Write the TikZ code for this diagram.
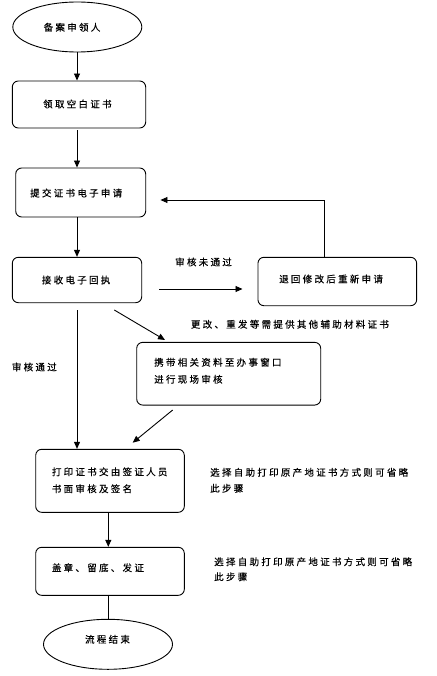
\documentclass[tikz,border=0pt]{standalone}
\usepackage{fontspec}
\newfontfamily\cjkf[LetterSpace=24,FakeBold=0.4]{Noto Sans CJK SC}
\usetikzlibrary{arrows.meta,shapes.geometric}
\begin{document}
\begin{tikzpicture}[x=1pt,y=-1pt,
  box/.style={draw, rounded corners=6pt, line width=0.9pt, inner sep=0pt},
  oval/.style={draw, ellipse, line width=0.9pt, inner sep=0pt, minimum width=129pt, minimum height=50pt},
  txt/.style={inner sep=0pt, anchor=west, align=left, font=\cjkf\fontsize{9.5}{17}\selectfont},
  arr/.style={-{Triangle[length=7pt,width=6pt]}, line width=0.9pt},
  ln/.style={line width=0.9pt}]
\useasboundingbox (0,0) rectangle (436,676);
\coordinate (cx) at (77,0);
\coordinate (fx) at (324.3,0);
\coordinate (mx) at (108.3,0);
\coordinate (ry) at (0,289);

\node[oval] (e1) at (77.3,27) {};
\node[inner sep=0pt, font=\cjkf\fontsize{9.5}{17}\selectfont] (te1) at (72,27.3) {备案申领人};

\node[box, minimum width=133.4pt, minimum height=47pt] (b1) at (79,104.5) {};
\node[txt] (t1) at (43,104) {领取空白证书};

\node[box, minimum width=130pt, minimum height=49pt] (b2) at (80.7,192.5) {};
\node[txt] (t2) at (30,193) {提交证书电子申请};

\node[box, minimum width=129.4pt, minimum height=45.4pt] (b3) at (77,280) {};
\node[txt] (t3) at (41.7,280) {接收电子回执};

\node[box, minimum width=158.7pt, minimum height=48.4pt] (b4) at (337.3,281.5) {};
\node[txt] (t4) at (279,279) {退回修改后重新申请};

\node[box, minimum width=184pt, minimum height=62.7pt] (b5) at (228.7,373.7) {};
\node[txt] (t5) at (154,370.8) {携带相关资料至办事窗口\\进行现场审核};

\node[box, minimum width=148.6pt, minimum height=63pt] (b6) at (110,480.8) {};
\node[txt] (t6) at (51.7,480.3) {打印证书交由签证人员\\书面审核及签名};

\node[box, minimum width=148.6pt, minimum height=48pt] (b7) at (110,571.3) {};
\node[txt] (t7) at (51.7,567.7) {盖章、留底、发证};

\node[oval] (e2) at (108,644.3) {};
\node[inner sep=0pt, font=\cjkf\fontsize{9.5}{17}\selectfont] (te2) at (107.5,639.3) {流程结束};

% labels
\node[txt] (l1) at (175,262) {审核未通过};
\node[txt] (l2) at (190.7,324.3) {更改、重发等需提供其他辅助材料证书};
\node[txt] (l3) at (11.7,367) {审核通过};
\node[txt, font=\cjkf\fontsize{9.5}{16}\selectfont] (n1) at (210,480.3) {选择自助打印原产地证书方式则可省略\\此步骤};
\node[txt, font=\cjkf\fontsize{9.5}{15}\selectfont] (n2) at (214,569.2) {选择自助打印原产地证书方式则可省略\\此步骤};

% connectors
\draw[arr] (e1.south -| cx) -- (b1.north -| cx);
\draw[arr, shorten <=2pt] (b1.south -| cx) -- (b2.north -| cx);
\draw[arr] (b2.south -| cx) -- (b3.north -| cx);
\draw[arr, shorten <=17.3pt, shorten >=15pt] (b3.east |- ry) -- (b4.west |- ry);
\draw[arr, shorten >=14.3pt] (b4.north -| fx) |- ([yshift=-7.5pt]b2.east);
\coordinate (d1s) at (114.3,310);
\coordinate (d1e) at (165,340);
\draw[arr] (d1s) -- (d1e);
\draw[arr, shorten <=7.3pt] (b3.south -| cx) -- (b6.north -| cx);
\coordinate (d2s) at (172.7,410);
\coordinate (d2e) at (132.7,442.7);
\draw[arr] (d2s) -- (d2e);
\draw[arr] (b6.south -| mx) -- (b7.north -| mx);
\draw[ln] (b7.south -| mx) -- (e2.north -| mx);
\end{tikzpicture}
\end{document}
